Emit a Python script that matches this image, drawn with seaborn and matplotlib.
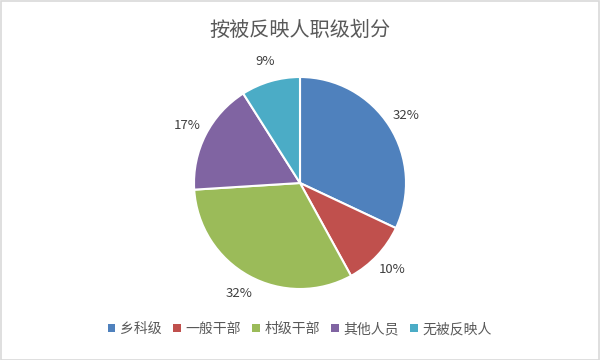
import matplotlib
matplotlib.use("Agg")
import matplotlib.pyplot as plt
from matplotlib.patches import Patch, Rectangle
import seaborn as sns

# Case breakdown by rank of the person reported
categories = ["乡科级", "一般干部", "村级干部", "其他人员", "无被反映人"]
shares = [32, 10, 32, 17, 9]
colors_hex = ["#4F81BD", "#C0504D", "#9BBB59", "#8064A2", "#4BACC6"]
title_text = "按被反映人职级划分"

sns.set_theme(style="white")
plt.rcParams["font.family"] = ["Noto Sans CJK SC", "DejaVu Sans"]

palette = sns.color_palette(colors_hex)

fig = plt.figure(figsize=(6, 3.6), dpi=100)
fig.patch.set_facecolor("white")

ax = fig.add_axes([0.25, 0.075, 0.5, 300 / 360])
wedges, texts, autotexts = ax.pie(
    shares,
    colors=palette,
    startangle=90,
    counterclock=False,
    autopct=lambda p: f"{p:.0f}%",
    pctdistance=1.19,
    wedgeprops=dict(edgecolor="white", linewidth=1.5),
    textprops=dict(fontsize=9.5, color="#404040"),
)
lim = 150 / 106
ax.set_xlim(-lim, lim)
ax.set_ylim(-lim, lim)
ax.set_aspect("equal")
ax.axis("off")

fig.text(0.5, 1 - 30 / 360, title_text, ha="center", va="center",
         fontsize=14.5, color="#595959")

handles = [Patch(facecolor=c, edgecolor="none") for c in palette]
fig.legend(handles, categories, loc="center", bbox_to_anchor=(0.5, 1 - 329 / 360),
           ncol=5, frameon=False, fontsize=10, labelcolor="#595959",
           handlelength=0.55, handleheight=0.55, handletextpad=0.35,
           columnspacing=0.8)

fig.patches.append(Rectangle((0.5 / 600, 0.5 / 360), 1 - 1.5 / 600, 1 - 1.5 / 360,
                             transform=fig.transFigure, fill=False,
                             edgecolor="#D9D9D9", linewidth=1.2))

fig.savefig("out.png", dpi=100, facecolor="white")
